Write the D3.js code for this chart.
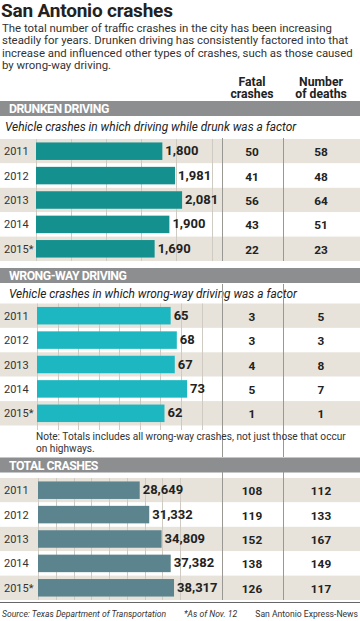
<!DOCTYPE html>
<html>
<head>
<meta charset="utf-8">
<script src="https://cdn.jsdelivr.net/npm/d3@7"></script>
<style>
  body { margin: 0; background: #fff; }
  svg { display: block; font-family: Roboto, "Open Sans", sans-serif; }
</style>
</head>
<body>
<svg width="360" height="621"></svg>
<script>
var years = ["2011", "2012", "2013", "2014", "2015*"];

var drunkCrashes = [1800, 1981, 2081, 1900, 1690];
var drunkFatal = [50, 41, 56, 43, 22];
var drunkDeaths = [58, 48, 64, 51, 23];

var wrongCrashes = [65, 68, 67, 73, 62];
var wrongFatal = [3, 3, 4, 5, 1];
var wrongDeaths = [5, 3, 8, 7, 1];

var totalCrashes = [28649, 31332, 34809, 37382, 38317];
var totalFatal = [108, 119, 152, 138, 126];
var totalDeaths = [112, 133, 167, 149, 117];

var svg = d3.select("svg"),
    W = +svg.attr("width");

var fmt = d3.format(",d");
var colFatal = 252, colDeaths = 321;
var div1 = 222.5, div2 = 283.5;

// title + intro
svg.append("text")
    .attr("x", 1).attr("y", 17)
    .attr("font-size", "19px").attr("font-weight", 700)
    .attr("letter-spacing", "-0.2px")
    .attr("fill", "#222")
    .text("San Antonio crashes");

var intro = [
  "The total number of traffic crashes in the city has been increasing",
  "steadily for years. Drunken driving has consistently factored into that",
  "increase and influenced other types of crashes, such as those caused",
  "by wrong-way driving."
];
svg.append("text")
    .attr("font-size", "11.4px")
    .attr("fill", "#333")
  .selectAll("tspan")
  .data(intro)
  .enter().append("tspan")
    .attr("x", 2)
    .attr("y", function(d, i) { return 32 + i * 12.3; })
    .text(function(d) { return d; });

// column heads
var heads = [[colFatal, ["Fatal", "crashes"]], [colDeaths, ["Number", "of deaths"]]];
heads.forEach(function(h) {
  svg.append("text")
      .attr("text-anchor", "middle")
      .attr("font-size", "12.2px").attr("font-weight", 700)
      .attr("fill", "#222")
    .selectAll("tspan")
    .data(h[1])
    .enter().append("tspan")
      .attr("x", h[0])
      .attr("y", function(d, i) { return 85.5 + i * 12.2; })
      .text(function(d) { return d; });
});

function section(opt) {
  var g = svg.append("g");

  // grey header bar
  g.append("rect")
      .attr("x", 0).attr("y", opt.barTop)
      .attr("width", W).attr("height", 15)
      .attr("fill", "#8c8e90");
  g.append("text")
      .attr("x", 9).attr("y", opt.barTop + 12)
      .attr("font-size", "12.3px").attr("font-weight", 700)
      .attr("letter-spacing", "-0.5px")
      .attr("fill", "#fff")
      .text(opt.title);

  if (opt.sub) {
    g.append("text")
        .attr("x", opt.subX).attr("y", opt.barTop + 30)
        .attr("font-size", "11.9px").attr("font-style", "italic")
        .attr("fill", "#222")
        .text(opt.sub);
  }

  var y = d3.scaleBand()
      .domain(years)
      .range([opt.rowTop, opt.rowTop + 24.4 * years.length]);

  var x = d3.scaleLinear()
      .domain([0, opt.max])
      .range([opt.x0, opt.x1]);

  // row bands
  g.selectAll(".band")
    .data(years)
    .enter().append("rect")
      .attr("x", 0).attr("y", function(d) { return y(d); })
      .attr("width", W).attr("height", y.bandwidth())
      .attr("fill", function(d, i) { return i % 2 === 0 ? "#e7e3da" : "#fff"; });

  // grid
  g.selectAll(".grid")
    .data(x.ticks(opt.ticks))
    .enter().append("line")
      .attr("x1", function(d) { return Math.round(x(d)) + 0.5; })
      .attr("x2", function(d) { return Math.round(x(d)) + 0.5; })
      .attr("y1", y.range()[0]).attr("y2", opt.gridBottom || y.range()[1])
      .attr("stroke", "#cfcbc2").attr("stroke-width", 1);

  // dividers
  [div1, div2].forEach(function(dx) {
    g.append("line")
        .attr("x1", dx).attr("x2", dx)
        .attr("y1", opt.divTop).attr("y2", opt.divBottom || y.range()[1])
        .attr("stroke", "#9a9893").attr("stroke-width", 1);
  });

  // bars
  g.selectAll(".bar")
    .data(opt.values)
    .enter().append("rect")
      .attr("x", x(0))
      .attr("y", function(d, i) { return y(years[i]) + (y.bandwidth() - 17.5) / 2; })
      .attr("width", function(d) { return x(d) - x(0); })
      .attr("height", 17.5)
      .attr("fill", opt.color);

  // value labels
  g.selectAll(".val")
    .data(opt.values)
    .enter().append("text")
      .attr("x", function(d) { return x(d) + 3; })
      .attr("y", function(d, i) { return y(years[i]) + y.bandwidth() / 2 + 4; })
      .attr("font-size", "13px").attr("font-weight", 700)
      .attr("fill", "#222")
      .text(function(d) { return fmt(d); });

  // year labels
  g.selectAll(".yr")
    .data(years)
    .enter().append("text")
      .attr("x", 4)
      .attr("y", function(d) { return y(d) + y.bandwidth() / 2 + 4; })
      .attr("font-size", "11px")
      .attr("fill", "#333")
      .text(function(d) { return d; });

  // table columns
  [[colFatal, opt.fatal], [colDeaths, opt.deaths]].forEach(function(c) {
    g.selectAll(null)
      .data(c[1])
      .enter().append("text")
        .attr("x", c[0])
        .attr("y", function(d, i) { return y(years[i]) + y.bandwidth() / 2 + 5; })
        .attr("text-anchor", "middle")
        .attr("font-size", "11.8px").attr("font-weight", 700)
        .attr("fill", "#222")
        .text(function(d) { return d; });
  });

  return y;
}

section({
  title: "DRUNKEN DRIVING",
  sub: "Vehicle crashes in which driving while drunk was a factor",
  subX: 5,
  barTop: 101, rowTop: 139, divTop: 138,
  values: drunkCrashes, fatal: drunkFatal, deaths: drunkDeaths,
  max: 2500, ticks: 5, x0: 36, x1: 211.5,
  color: "#14908e"
});

section({
  title: "WRONG-WAY DRIVING",
  sub: "Vehicle crashes in which wrong-way driving was a factor",
  subX: 9,
  barTop: 268, rowTop: 303.5, divTop: 284, divBottom: 457,
  gridBottom: 430,
  values: wrongCrashes, fatal: wrongFatal, deaths: wrongDeaths,
  max: 80, ticks: 8, x0: 37, x1: 201.5,
  color: "#1cb7c0"
});

svg.append("text")
    .attr("font-size", "10.1px")
    .attr("fill", "#333")
  .selectAll("tspan")
  .data(["Note: Totals includes all wrong-way crashes, not just those that occur",
         "on highways."])
  .enter().append("tspan")
    .attr("x", 36)
    .attr("y", function(d, i) { return 440 + i * 11.5; })
    .text(function(d) { return d; });

section({
  title: "TOTAL CRASHES",
  barTop: 457.5, rowTop: 478, divTop: 472,
  values: totalCrashes, fatal: totalFatal, deaths: totalDeaths,
  max: 40000, ticks: 8, x0: 38, x1: 180,
  color: "#5b848e"
});

// footer
svg.append("line")
    .attr("x1", 0).attr("x2", W)
    .attr("y1", 602.5).attr("y2", 602.5)
    .attr("stroke", "#666").attr("stroke-width", 1.2);

var foot = svg.append("g")
    .attr("font-size", "8.6px")
    .attr("fill", "#333");
foot.append("text").attr("x", 2).attr("y", 617)
    .attr("font-style", "italic")
    .text("Source: Texas Department of Transportation");
foot.append("text").attr("x", 184).attr("y", 617)
    .attr("font-style", "italic")
    .text("*As of Nov. 12");
foot.append("text").attr("x", 358).attr("y", 617)
    .attr("text-anchor", "end")
    .text("San Antonio Express-News");
</script>
</body>
</html>
